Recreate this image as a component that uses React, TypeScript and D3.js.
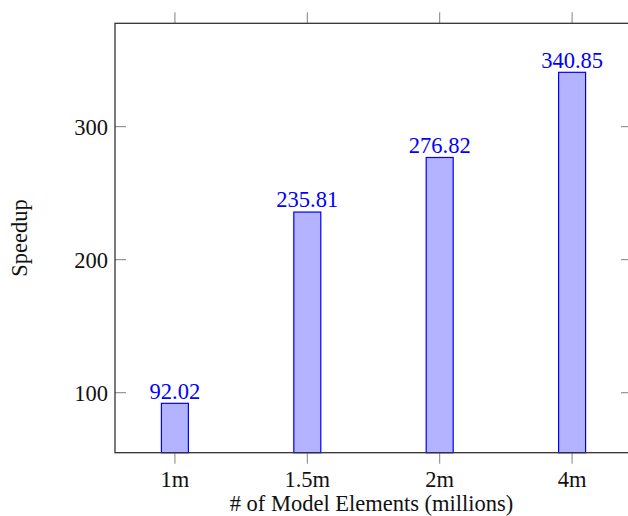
import React from "react";
import * as d3 from "d3";

const categories = ["1m", "1.5m", "2m", "4m"];
const speedups = [92.02, 235.81, 276.82, 340.85];
const yTicks = [100, 200, 300];
const xTitle = "# of Model Elements (millions)";
const yTitle = "Speedup";

const W = 628;
const H = 516;
const left = 115;
const right = 632;
const top = 23.3;
const bottom = 452.7;
const FONT = "'Liberation Serif', 'DejaVu Serif', serif";
const FS = 22.5;

export default function App() {
  const x = d3
    .scalePoint<string>()
    .domain(categories)
    .range([left, right])
    .padding(0.4525);
  const y = d3.scaleLinear().domain([54.9, 377.7]).range([bottom, top]);
  const barW = 27;
  const tickLen = 11;
  return (
    <svg
      width={W}
      height={H}
      style={{ position: "absolute", left: 0, top: 0 }}
      fontFamily={FONT}
    >
      <rect x={0} y={0} width={W} height={H} fill="white" />
      {speedups.map((v, i) => {
        const cx = x(categories[i])!;
        return (
          <g key={i}>
            <rect
              x={cx - barW / 2}
              y={y(v)}
              width={barW}
              height={bottom - y(v)}
              fill="#b3b3ff"
              stroke="#0000ff"
              strokeWidth={1.2}
            />
            <text
              x={cx}
              y={y(v) - 4.6}
              textAnchor="middle"
              fill="#0000ff"
              fontSize={FS}
            >
              {v.toFixed(2)}
            </text>
          </g>
        );
      })}
      {categories.map((c) => (
        <g key={c}>
          <line x1={x(c)} x2={x(c)} y1={bottom} y2={bottom + tickLen} stroke="#808080" strokeWidth={1} />
          <line x1={x(c)} x2={x(c)} y1={top} y2={top - tickLen} stroke="#808080" strokeWidth={1} />
          <text x={x(c)} y={486.5} textAnchor="middle" fontSize={FS} fill="#111">
            {c}
          </text>
        </g>
      ))}
      {yTicks.map((t) => (
        <g key={t}>
          <line x1={left} x2={left + tickLen} y1={y(t)} y2={y(t)} stroke="#808080" strokeWidth={1} />
          <line x1={right} x2={right - tickLen} y1={y(t)} y2={y(t)} stroke="#808080" strokeWidth={1} />
          <text x={left - 7} y={y(t)} dy="0.35em" textAnchor="end" fontSize={FS} fill="#111">
            {t}
          </text>
        </g>
      ))}
      <rect
        x={left}
        y={top}
        width={right - left}
        height={bottom - top}
        fill="none"
        stroke="#333"
        strokeWidth={1.3}
      />
      <text x={(left + 630) / 2 - 1} y={511} textAnchor="middle" fontSize={FS} fill="#111">
        {xTitle}
      </text>
      <text
        transform={`translate(27,${(top + bottom) / 2}) rotate(-90)`}
        textAnchor="middle"
        fontSize={FS}
        fill="#111"
      >
        {yTitle}
      </text>
    </svg>
  );
}
